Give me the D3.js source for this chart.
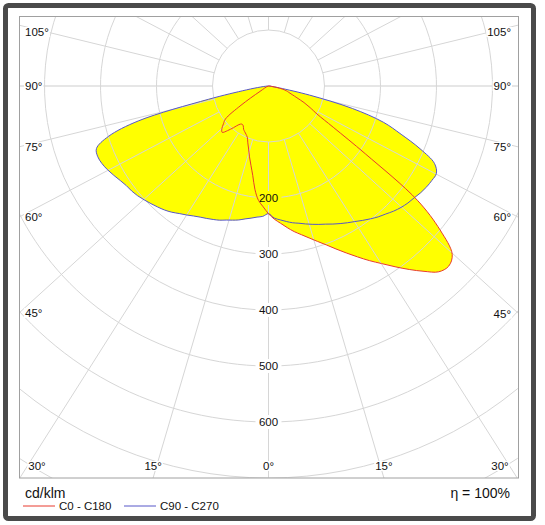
<!DOCTYPE html>
<html>
<head>
<meta charset="utf-8">
<script src="https://cdn.jsdelivr.net/npm/d3@7"></script>
<style>
  body { margin: 0; background: #fff; }
  svg { display: block; font-family: "Liberation Sans", Arial, sans-serif; }
</style>
</head>
<body>
<svg id="chart" width="545" height="525"></svg>
<script>
const width = 545, height = 525;

// gamma angles (deg from nadir), 2.5 deg steps
const gammas = d3.range(0, 90.1, 2.5);

// luminous intensity, cd/klm
const c0   = [228,238,246,255,264,272,281,291,302,315,329,344,360,376,394,413,432,450,455,445,400,335,211,137,100,84,70,55,45,38,33,25,15,6,0,0,0];
const c180 = [228,216,205,186,162,145,131,118,108,99,95,92,89,84,83,87,97,108,117,113,105,97,60,18,0,0,0,0,0,0,0,0,0,0,0,0,0];
const c90  = [228,236,240,244,248,251,255,259,263,267,272,277,282,287,293,299,305,310,316,321,325,328,332,335,337,338,327,293,252,215,155,75,20,5,0,0,0];
const c270 = [228,233,235,238,241,245,248,251,255,258,261,264,268,273,278,284,289,293,297,301,305,308,310,314,319,324,328,330,327,300,240,110,40,15,5,0,0];

const ringValues = [100, 200, 300, 400, 500, 600, 700, 800];
const ringLabels = [200, 300, 400, 500, 600];
const spokeAngles = d3.range(0, 181, 15);
const spokeLabels = [0, 15, 30, 45, 60, 75, 90, 105];
const legendItems = [
  { name: "C0 - C180", color: "#e83a2e" },
  { name: "C90 - C270", color: "#5656c8" }
];

// layout
const plot = { x0: 19, y0: 17, x1: 518.5, y1: 478 };
const cx = 268.5, cy = 86;
const r = d3.scaleLinear().domain([0, 100]).range([0, 56]);
const rayAspect = 0.91;   // spokes in the source come out slightly squeezed vertically
const gridColor = "#d6d6d6";

const svg = d3.select("#chart");

svg.append("defs").append("clipPath").attr("id", "plotClip")
  .append("rect")
  .attr("x", plot.x0).attr("y", plot.y0)
  .attr("width", plot.x1 - plot.x0).attr("height", plot.y1 - plot.y0);

const body = svg.append("g").attr("clip-path", "url(#plotClip)");
const center = body.append("g").attr("transform", `translate(${cx},${cy})`);

// --- fills ---
function planePoints(left, right) {
  const pts = [{ a: 0, v: 0 }];
  for (let i = gammas.length - 1; i >= 0; i--) {
    if (left[i] > 0) pts.push({ a: Math.PI + gammas[i] * Math.PI / 180, v: left[i] });
  }
  for (let i = 1; i < gammas.length; i++) {
    if (right[i] > 0) pts.push({ a: Math.PI - gammas[i] * Math.PI / 180, v: right[i] });
  }
  return pts;
}

const radial = d3.lineRadial()
  .angle(d => d.a)
  .radius(d => r(d.v))
  .curve(d3.curveCatmullRomClosed.alpha(0.5));

const planes = [
  { pts: planePoints(c180, c0), color: legendItems[0].color },
  { pts: planePoints(c270, c90), color: legendItems[1].color }
];

center.selectAll("path.fill")
  .data(planes)
  .enter().append("path")
  .attr("class", "fill")
  .attr("d", d => radial(d.pts))
  .attr("fill", "#ffff00")
  .attr("stroke", "none");

// --- grid ---
function rayDir(g, side) {
  const t = g * Math.PI / 180;
  const dx = side * Math.sin(t), dy = rayAspect * Math.cos(t);
  const n = Math.hypot(dx, dy);
  return [dx / n, dy / n];
}

const rays = [];
spokeAngles.forEach(g => {
  if (g === 0) return;
  if (g === 180) rays.push({ g, side: 1 });
  else { rays.push({ g, side: -1 }); rays.push({ g, side: 1 }); }
});

center.selectAll("line.spoke")
  .data(rays)
  .enter().append("line")
  .attr("class", "spoke")
  .each(function(d) {
    const [ux, uy] = rayDir(d.g, d.side);
    d3.select(this)
      .attr("x1", ux * r(100)).attr("y1", uy * r(100))
      .attr("x2", ux * 900).attr("y2", uy * 900);
  })
  .attr("stroke", d => d.g === 90 ? "#e6e6e6" : gridColor)
  .attr("stroke-width", d => d.g === 90 ? 2 : 1);

// nadir spoke, broken where the ring values sit
const gapY = 7;
const nadirStops = [r(100)];
ringLabels.forEach(v => { nadirStops.push(r(v) - gapY, r(v) + gapY); });
nadirStops.push(900);
const nadirSegs = d3.range(0, nadirStops.length, 2).map(i => [nadirStops[i], nadirStops[i + 1]]);
center.selectAll("line.nadir")
  .data(nadirSegs)
  .enter().append("line")
  .attr("class", "nadir")
  .attr("x1", 0).attr("x2", 0)
  .attr("y1", d => d[0]).attr("y2", d => d[1])
  .attr("stroke", gridColor);

// rings, opened at the bottom where labelled
const gapX = 13;
center.selectAll("path.ring")
  .data(ringValues)
  .enter().append("path")
  .attr("class", "ring")
  .attr("d", v => {
    const p = d3.path();
    const rr = r(v);
    const g = ringLabels.includes(v) ? Math.asin(gapX / rr) : 0;
    p.arc(0, 0, rr, Math.PI / 2 + g, Math.PI / 2 + 2 * Math.PI - g);
    return p.toString();
  })
  .attr("fill", "none")
  .attr("stroke", gridColor);

// --- curves ---
center.selectAll("path.curve")
  .data(planes.slice().reverse())
  .enter().append("path")
  .attr("class", "curve")
  .attr("d", d => radial(d.pts))
  .attr("fill", "none")
  .attr("stroke", d => d.color)
  .attr("stroke-width", 1);

// --- ring labels ---
center.selectAll("text.ringLabel")
  .data(ringLabels)
  .enter().append("text")
  .attr("class", "ringLabel")
  .attr("x", 0).attr("y", v => r(v))
  .attr("text-anchor", "middle")
  .attr("dominant-baseline", "central")
  .attr("font-size", 11.5)
  .attr("fill", "#111")
  .text(v => v);

// --- angle labels ---
function edgeHit(g, side) {
  const [ux, uy] = rayDir(g, side);
  const tSide = ux > 0 ? (plot.x1 - cx) / ux : (ux < 0 ? (plot.x0 - cx) / ux : Infinity);
  const tBottom = uy > 0 ? (plot.y1 - cy) / uy : Infinity;
  if (tBottom <= tSide) return { edge: "bottom", x: cx + ux * tBottom, y: plot.y1 };
  return { edge: "side", x: cx + ux * tSide, y: cy + uy * tSide };
}

const angleLabels = [];
spokeLabels.forEach(g => {
  (g === 0 ? [1] : [-1, 1]).forEach(side => {
    const h = edgeHit(g, side);
    let lab;
    if (h.edge === "bottom") {
      lab = { text: g + "°", x: Math.max(37, Math.min(500, h.x)), y: 466, anchor: "middle" };
    } else {
      lab = { text: g + "°", x: side < 0 ? 25 : 511, y: Math.max(32, Math.min(460, h.y)),
              anchor: side < 0 ? "start" : "end" };
    }
    angleLabels.push(lab);
  });
});

const angleG = svg.append("g");
const angleItems = angleG.selectAll("g")
  .data(angleLabels)
  .enter().append("g");
angleItems.append("rect").attr("fill", "#fff");
angleItems.append("text")
  .attr("x", d => d.x).attr("y", d => d.y)
  .attr("text-anchor", d => d.anchor)
  .attr("dominant-baseline", "central")
  .attr("font-size", 11.5)
  .attr("fill", "#111")
  .text(d => d.text);
angleItems.each(function() {
  const t = d3.select(this).select("text").node().getBBox();
  d3.select(this).select("rect")
    .attr("x", t.x - 1).attr("y", t.y + 1)
    .attr("width", t.width + 2).attr("height", t.height - 2);
});

// plot border
svg.append("rect")
  .attr("x", plot.x0 + 0.5).attr("y", plot.y0 - 0.5)
  .attr("width", plot.x1 - plot.x0 - 0.5).attr("height", plot.y1 - plot.y0 + 0.5)
  .attr("fill", "none")
  .attr("stroke", "#a0a0a0");

// --- footer ---
svg.append("text")
  .attr("x", 25).attr("y", 493)
  .attr("dominant-baseline", "central")
  .attr("font-size", 14)
  .attr("fill", "#111")
  .text("cd/klm");

svg.append("text")
  .attr("x", 510).attr("y", 493)
  .attr("text-anchor", "end")
  .attr("dominant-baseline", "central")
  .attr("font-size", 14)
  .attr("fill", "#111")
  .text("η = 100%");

const legend = svg.selectAll("g.legend")
  .data(legendItems)
  .enter().append("g")
  .attr("class", "legend")
  .attr("transform", (d, i) => `translate(${23 + i * 101},506)`);
legend.append("line")
  .attr("x1", 0).attr("x2", 32)
  .attr("stroke", d => d.color)
  .attr("stroke-width", 1);
legend.append("text")
  .attr("x", 36)
  .attr("dominant-baseline", "central")
  .attr("font-size", 11.5)
  .attr("fill", "#111")
  .text(d => d.name);

// outer frame
svg.append("rect")
  .attr("x", 5.5).attr("y", 5.5)
  .attr("width", 528).attr("height", 513)
  .attr("rx", 3)
  .attr("fill", "none")
  .attr("stroke", "#4a4a4a")
  .attr("stroke-width", 5);
</script>
</body>
</html>
